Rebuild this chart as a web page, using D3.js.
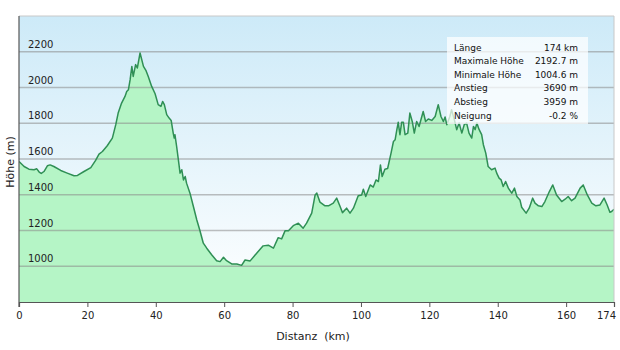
<!DOCTYPE html>
<html>
<head>
<meta charset="utf-8">
<script src="https://cdn.jsdelivr.net/npm/d3@7/dist/d3.min.js"></script>
<style>
  html, body { margin: 0; padding: 0; background: #fff; }
  svg { display: block; font-family: "DejaVu Sans", sans-serif; }
</style>
</head>
<body>
<svg id="chart" width="620" height="350"></svg>
<script>
// Elevation profile: distance along the route (km) and altitude (m)
const distanceKm = [
  0, 1.5, 2.9, 4.4, 5.2, 5.9, 6.5, 7.3, 8.3, 9.1, 10.2, 12.2, 14.1, 16.1, 17.1, 19.0,
  21.0, 22.4, 23.4, 24.4, 25.8, 27.3, 28.3, 29.0, 30.0, 31.0, 31.5, 32.0, 32.5, 33.0,
  33.4, 34.1, 34.6, 35.4, 36.4, 37.1, 37.8, 38.8, 39.8, 40.7, 41.5, 42.0, 42.5, 43.2,
  43.9, 44.5, 45.1, 45.4, 45.6, 46.1, 46.6, 47.1, 47.6, 48.1, 48.6, 49.0, 50.0, 51.0,
  52.0, 52.9, 53.9, 54.9, 56.4, 57.8, 58.8, 59.8, 60.7, 62.2, 63.7, 65.1, 66.1, 67.6,
  69.5, 71.4, 72.9, 74.4, 75.8, 76.8, 77.8, 78.8, 80.2, 81.7, 83.1, 84.1, 85.6, 86.6,
  87.1, 88.0, 89.5, 90.5, 91.9, 92.9, 93.9, 94.6, 95.8, 96.8, 97.8, 99.2, 100.2, 100.7,
  101.4, 102.7, 103.6, 104.4, 105.1, 105.7, 106.2, 107.0, 107.8, 108.8, 109.5, 110.0,
  110.5, 110.9, 111.4, 111.9, 112.4, 112.9, 113.7, 114.3, 115.0, 115.6, 116.3, 117.0,
  118.2, 118.9, 119.7, 120.7, 121.7, 122.6, 123.4, 124.1, 124.6, 125.1, 126.0, 126.5,
  127.3, 128.0, 128.7, 129.5, 130.2, 130.9, 131.6, 132.4, 132.9, 133.4, 133.9, 134.5,
  135.3, 135.8, 136.5, 137.2, 138.2, 139.2, 139.7, 140.4, 141.0, 141.6, 142.3, 143.1,
  144.1, 144.9, 145.6, 146.5, 147.0, 148.3, 149.2, 150.2, 150.9, 151.9, 152.9, 153.8,
  155.1, 156.1, 157.2, 158.7, 159.7, 160.6, 161.6, 162.6, 164.1, 165.0, 166.2, 167.5,
  168.7, 169.9, 171.1, 172.0, 172.8, 173.3, 174.0
];
const elevationM = [
  1586, 1558, 1543, 1540, 1545, 1527, 1519, 1530, 1562, 1567, 1558, 1536, 1521, 1506, 1508, 1530,
  1552, 1592, 1627, 1642, 1674, 1717, 1792, 1857, 1913, 1950, 1978, 1988, 2044, 2118,
  2062, 2128, 2109, 2193, 2118, 2096, 2062, 2006, 1965, 1904, 1894, 1922, 1904, 1848,
  1829, 1816, 1745, 1717, 1736, 1670, 1596, 1521, 1540, 1483, 1502, 1465, 1409, 1334,
  1259, 1200, 1129, 1101, 1063, 1031, 1026, 1050, 1031, 1013, 1013, 1005, 1035, 1030,
  1073, 1114, 1118, 1101, 1160, 1153, 1198, 1199, 1227, 1241, 1213, 1241, 1297, 1399,
  1409, 1359, 1338, 1338, 1353, 1381, 1334, 1300, 1325, 1297, 1325, 1394, 1399, 1431,
  1390, 1455, 1443, 1483, 1474, 1567, 1502, 1543, 1547, 1633, 1698, 1708,
  1764, 1805, 1736, 1805, 1805, 1736, 1745, 1857, 1810, 1745, 1810, 1782,
  1866, 1810, 1824, 1816, 1838, 1904, 1838, 1810, 1835, 1792, 1838, 1876,
  1820, 1764, 1801, 1745, 1792, 1801, 1745, 1717, 1782, 1764, 1801, 1767,
  1736, 1680, 1633, 1558, 1540, 1549, 1521, 1493, 1483, 1446, 1474, 1437,
  1409, 1437, 1390, 1371, 1330, 1297, 1325, 1381, 1353, 1338, 1334, 1362,
  1418, 1455, 1399, 1362, 1375, 1390, 1367, 1381, 1437, 1455, 1399, 1353,
  1338, 1343, 1381, 1343, 1302, 1306, 1319
];

const xTickValues = [0, 20, 40, 60, 80, 100, 120, 140, 160, 174];
const yTickValues = [1000, 1200, 1400, 1600, 1800, 2000, 2200];

// Route summary shown in the info box
const statLabels = ["Länge", "Maximale Höhe", "Minimale Höhe", "Anstieg", "Abstieg", "Neigung"];
const statValues = ["174 km", "2192.7 m", "1004.6 m", "3690 m", "3959 m", "-0.2 %"];

const points = distanceKm.map((d, i) => ({ d, e: elevationM[i] }));

const svg = d3.select("#chart");
const plot = { left: 19, right: 614, top: 16, bottom: 302 };

const x = d3.scaleLinear().domain([0, 174]).range([plot.left, plot.right]);
const y = d3.scaleLinear().domain([800, 2400]).range([plot.bottom, plot.top]);

const defs = svg.append("defs");
const sky = defs.append("linearGradient")
  .attr("id", "sky").attr("x1", 0).attr("y1", 0).attr("x2", 0).attr("y2", 1);
sky.append("stop").attr("offset", "0%").attr("stop-color", "#cdeaf8");
sky.append("stop").attr("offset", "100%").attr("stop-color", "#ffffff");

defs.append("clipPath").attr("id", "plotClip")
  .append("rect")
  .attr("x", plot.left).attr("y", plot.top)
  .attr("width", plot.right - plot.left).attr("height", plot.bottom - plot.top);

// Plot background
svg.append("rect")
  .attr("x", plot.left).attr("y", plot.top)
  .attr("width", plot.right - plot.left).attr("height", plot.bottom - plot.top)
  .attr("fill", "url(#sky)");

const g = svg.append("g").attr("clip-path", "url(#plotClip)");

// Filled profile
g.append("path")
  .datum(points)
  .attr("fill", "#b5f5c6")
  .attr("d", d3.area().x(p => x(p.d)).y0(y(800)).y1(p => y(p.e)));

// Horizontal grid
g.selectAll("line.grid")
  .data(yTickValues)
  .join("line")
  .attr("class", "grid")
  .attr("x1", plot.left).attr("x2", plot.right)
  .attr("y1", v => y(v)).attr("y2", v => y(v))
  .attr("stroke", "#8a8a8a")
  .attr("stroke-opacity", 0.55)
  .attr("stroke-width", 1.3);

// Profile line
g.append("path")
  .datum(points)
  .attr("fill", "none")
  .attr("stroke", "#2f8f55")
  .attr("stroke-width", 1.5)
  .attr("stroke-linejoin", "round")
  .attr("d", d3.line().x(p => x(p.d)).y(p => y(p.e)));

// Frame: light top/right edges, darker axes
svg.append("path")
  .attr("d", `M${plot.left},${plot.top}H${plot.right}V${plot.bottom}`)
  .attr("fill", "none").attr("stroke", "#c8c8c8").attr("stroke-width", 1);

// Y tick labels inside the plot, above each gridline
svg.selectAll("text.ytick")
  .data(yTickValues)
  .join("text")
  .attr("class", "ytick")
  .attr("x", 28)
  .attr("y", v => y(v) - 4)
  .attr("font-size", 10)
  .attr("fill", "#222")
  .text(v => v);

// X axis
const xAxis = d3.axisBottom(x).tickValues(xTickValues).tickSize(5).tickFormat(d3.format("d"));
const xg = svg.append("g").attr("transform", `translate(0,${plot.bottom})`).call(xAxis);
xg.select(".domain").attr("stroke", "#555").attr("stroke-width", 1.2);
xg.selectAll(".tick line").attr("stroke", "#555");
xg.selectAll(".tick text")
  .attr("font-family", "DejaVu Sans, sans-serif")
  .attr("font-size", 10).attr("fill", "#222").attr("dy", "0.9em");
xg.selectAll(".tick text").filter(d => d === 174).attr("dx", -8);

// Left axis line
svg.append("line")
  .attr("x1", plot.left).attr("x2", plot.left)
  .attr("y1", plot.top).attr("y2", plot.bottom + 5)
  .attr("stroke", "#555").attr("stroke-width", 1.2);

// Axis titles
svg.append("text")
  .attr("x", 313).attr("y", 340)
  .attr("text-anchor", "middle")
  .attr("font-size", 11).attr("fill", "#222")
  .style("white-space", "pre")
  .text("Distanz  (km)");

svg.append("text")
  .attr("transform", "translate(14,162) rotate(-90)")
  .attr("text-anchor", "middle")
  .attr("font-size", 11).attr("fill", "#222")
  .text("Höhe (m)");

// Info box
const box = svg.append("g");
box.append("rect")
  .attr("x", 447).attr("y", 37).attr("width", 141).attr("height", 87)
  .attr("fill", "#ffffff").attr("fill-opacity", 0.72);
box.selectAll("text.lbl")
  .data(statLabels)
  .join("text")
  .attr("class", "lbl")
  .attr("x", 454)
  .attr("y", (d, i) => 50.5 + i * 13.6)
  .attr("font-size", 9).attr("fill", "#111")
  .text(d => d);
box.selectAll("text.val")
  .data(statValues)
  .join("text")
  .attr("class", "val")
  .attr("x", 578)
  .attr("y", (d, i) => 50.5 + i * 13.6)
  .attr("text-anchor", "end")
  .attr("font-size", 9).attr("fill", "#111")
  .text(d => d);
</script>
</body>
</html>
